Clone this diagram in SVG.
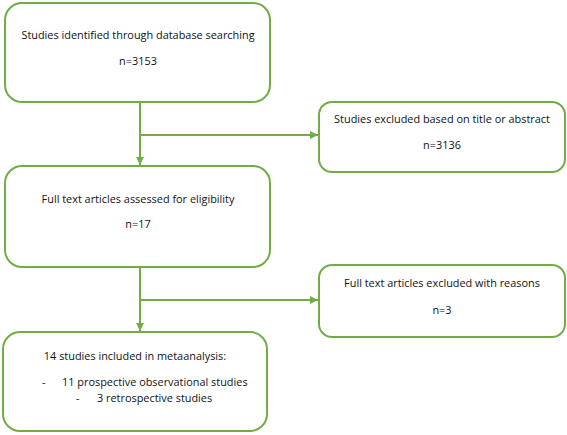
<svg xmlns="http://www.w3.org/2000/svg" width="567" height="435" viewBox="0 0 567 435">
<style>
.box{fill:#fff;stroke:#70AD47;stroke-width:2}
.ln{fill:none;stroke:#70AD47;stroke-width:2}
text{font-family:"Open Sans","Liberation Sans",sans-serif;font-size:10.9px;fill:#111}
.c{text-anchor:middle}
</style>
<defs>
<marker id="ah" viewBox="0 0 10 10" refX="10" refY="5" markerWidth="4" markerHeight="4" orient="auto" markerUnits="strokeWidth">
<path d="M0,0 L10,5 L0,10 z" fill="#70AD47"/>
</marker>
</defs>
<rect width="567" height="435" fill="#fff"/>
<g id="connectors">
<path class="ln" d="M140,102 V165" marker-end="url(#ah)"/>
<path class="ln" d="M140,135 H318" marker-end="url(#ah)"/>
<path class="ln" d="M140,267 V331" marker-end="url(#ah)"/>
<path class="ln" d="M140,300 H318" marker-end="url(#ah)"/>
</g>
<g id="n1">
<rect class="box" x="5" y="3" width="265" height="99" rx="17"/>
<text class="c" x="138" y="39">Studies identified through database searching</text>
<text class="c" x="138" y="65">n=3153</text>
</g>
<g id="n2">
<rect class="box" x="319" y="102" width="246" height="70" rx="13"/>
<text class="c" x="442" y="123">Studies excluded based on title or abstract</text>
<text class="c" x="442" y="149">n=3136</text>
</g>
<g id="n3">
<rect class="box" x="5" y="166" width="265" height="101" rx="17"/>
<text class="c" x="138" y="203">Full text articles assessed for eligibility</text>
<text class="c" x="138" y="228">n=17</text>
</g>
<g id="n4">
<rect class="box" x="319" y="265" width="246" height="72" rx="13"/>
<text class="c" x="442" y="287">Full text articles excluded with reasons</text>
<text class="c" x="442" y="314">n=3</text>
</g>
<g id="n5">
<rect class="box" x="3" y="332" width="264" height="99" rx="17"/>
<text class="c" x="135" y="360">14 studies included in metaanalysis:</text>
<text x="42" y="386">-</text>
<text x="62" y="386">11 prospective observational studies</text>
<text x="76" y="402">-</text>
<text x="97" y="402">3 retrospective studies</text>
</g>
</svg>
